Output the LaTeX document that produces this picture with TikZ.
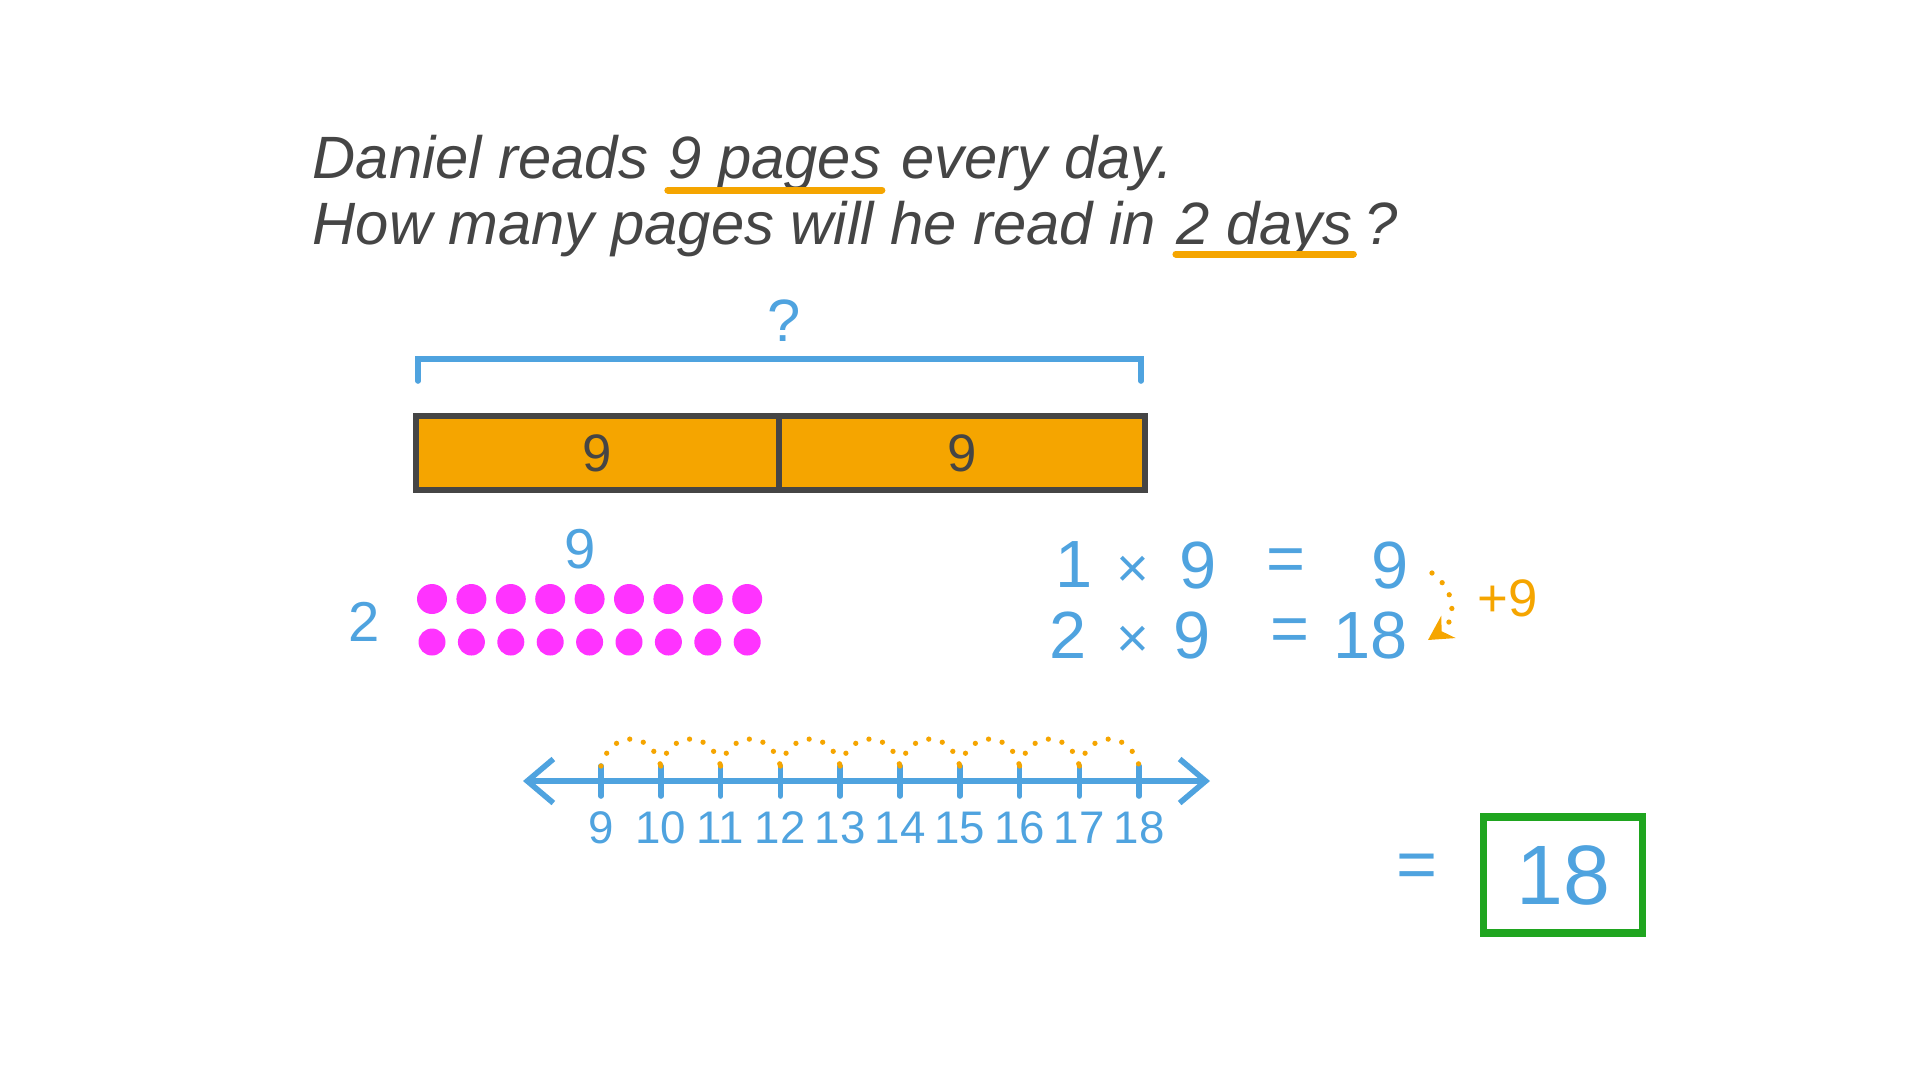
\documentclass[tikz,border=0pt]{standalone}
\usepackage{fontspec}
\setmainfont{Liberation Sans}
\usetikzlibrary{arrows.meta,positioning}
\definecolor{ink}{HTML}{454545}
\definecolor{pen}{HTML}{4FA3DF}
\definecolor{hi}{HTML}{F5A500}
\definecolor{dotc}{HTML}{FF33FF}
\definecolor{ok}{HTML}{1FA51F}
\begin{document}
\begin{tikzpicture}[x=0.1mm,y=-0.1mm]
				\def\st{59.8}
				\def\dx{39.4}
				\tikzset{txt/.style={text=ink,inner sep=0pt,anchor=base west,font=\fontsize{17}{20}\selectfont\itshape},
					uline/.style={hi,line width=2pt,line cap=round},
					num/.style={text=pen,inner sep=0pt,font=\fontsize{19}{22}\selectfont},
					lab/.style={text=pen,inner sep=0pt,font=\fontsize{13}{15}\selectfont},
					cell/.style={draw=ink,fill=hi,line width=1.6pt,minimum height=7.4mm,text=ink,font=\fontsize{15}{18}\selectfont},
					blob/.style={circle,fill=dotc,inner sep=0pt,minimum size=3mm},
					bluepen/.style={pen,line width=1.6pt,line cap=round},
					hop/.style={hi,line width=1.5pt,line cap=round,dash pattern=on 0pt off 4pt}}
				\useasboundingbox(0,0)rectangle(1920,1080);
				\node[txt](q1) at (312,178){Daniel reads};
				\node[txt](q2) at ([xshift=1.9mm]q1.base east){9 pages};
				\node[txt](q3) at ([xshift=1.9mm]q2.base east){every day.};
				\node[txt](q4) at (312,244){How many pages will he read in};
				\node[txt](q5) at ([xshift=1.9mm]q4.base east){2 days};
				\node[txt](q6) at ([xshift=1.0mm]q5.base east){?};
				\draw[uline]([yshift=-1.2mm]q2.base west)--([yshift=-1.2mm]q2.base east);
				\draw[uline]([yshift=-1.0mm]q5.base west)--([yshift=-1.0mm]q5.base east);
				\coordinate(bl) at (418,381);
				\coordinate(bt) at (780,359);
				\coordinate(br) at (1141,381);
				\draw[bluepen](bl)|-(bt)-|(br);
				\node[num,font=\fontsize{17}{20}\selectfont](tot) at (784,321){?};
				\node[cell,minimum width=36.3mm](c1) at (597.5,453){9};
				\node[cell,minimum width=36.6mm](c2) at (962,453){9};
				\node[num,font=\fontsize{16}{19}\selectfont](cols) at (580,549){9};
				\node[num,font=\fontsize{16}{19}\selectfont](rows) at (364,622){2};
				\foreach \i in {0,...,8}{
					\node[blob](a\i) at (432+\dx*\i,599){};
					\node[blob,minimum size=2.7mm](b\i) at (432+\dx*\i,642){};}
				\foreach \t/\x/\y/\n in {
					1/1074/565/e1,{\fontsize{16}{18}\selectfont ×}/1133/572/e2,9/1198/565/e3,=/1286/565/e4,9/1390/565/e5,
					2/1068/635/f1,{\fontsize{16}{18}\selectfont ×}/1133/642/f2,9/1192/635/f3,=/1290/635/f4}
				\node[num](\n) at (\x,\y){\t};
				\node[num,anchor=east](f5) at (1408,635){18};
				\coordinate(ps) at (1432,573);
				\coordinate(pe) at (1428,640);
				\draw[hop,-{Stealth[length=2.4mm,width=2.6mm]}](ps)..controls(1458,592)and(1456,622)..(pe);
				\node[num,text=hi,font=\fontsize{15}{18}\selectfont](plus) at (1508,598){+9};
				\coordinate(nl) at (523,781);
				\coordinate(nr) at (1210,781);
				\draw[bluepen,{Straight Barb[length=2.6mm,width=4.4mm]}-{Straight Barb[length=2.6mm,width=4.4mm]}](nl)--(nr);
				\foreach \n [count=\i from 0] in {9,...,18}{
					\coordinate(t\i) at (601+\st*\i,766);
					\draw[bluepen](t\i)--++(0,30);
					\node[lab](n\i) at (601+\st*\i,828){\n};}
				\foreach \x/\y in {0/1,1/2,2/3,3/4,4/5,5/6,6/7,7/8,8/9}
				\draw[hop](t\x)..controls+(10,-36)and+(-10,-36)..(t\y);
				\node[num,font=\fontsize{20}{24}\selectfont](eq) at (1417,871){=};
				\node[draw=ok,line width=2.2pt,minimum width=15.9mm,minimum height=11.6mm,num,font=\fontsize{24}{28}\selectfont](ans) at (1563,875){18};
\end{tikzpicture}
\end{document}
